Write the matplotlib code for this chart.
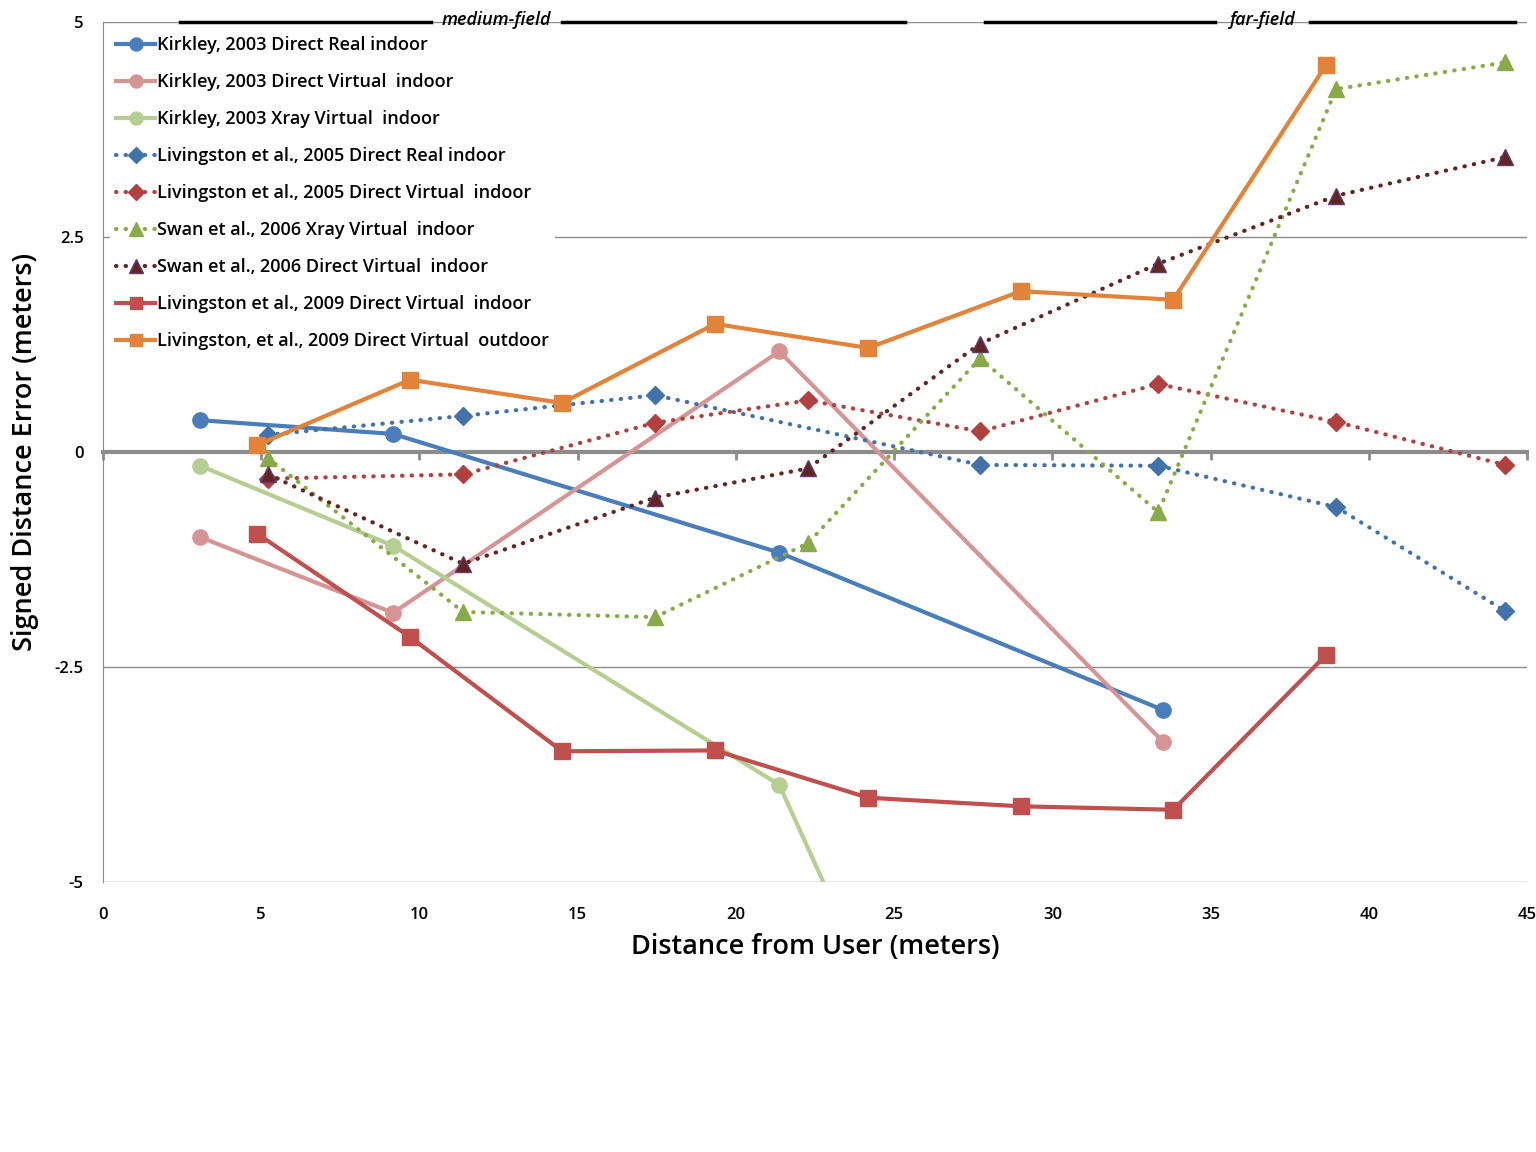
import matplotlib
matplotlib.use("Agg")
import matplotlib.pyplot as plt

plt.rcParams['font.family'] = ['Open Sans', 'DejaVu Sans']

# Kirkley 2003 (solid, circles)
kirk_x = [3.07, 9.17, 21.37, 33.5]
kirk_real = [0.37, 0.21, -1.17, -3.0]
kirk_virtual = [-0.99, -1.87, 1.17, -3.37]
kirk_xray = [-0.16, -1.09, -3.87, -13.7]

# Livingston 2005 / Swan 2006 (dotted)
liv05_x = [5.21, 11.38, 17.45, 22.28, 27.72, 33.35, 38.97, 44.31]
liv05_real_x = [5.21, 11.38, 17.45, 27.72, 33.35, 38.97, 44.31]
liv05_real = [0.20, 0.42, 0.66, -0.15, -0.16, -0.64, -1.85]
liv05_virtual = [-0.31, -0.26, 0.34, 0.60, 0.24, 0.79, 0.35, -0.15]
swan_xray = [-0.07, -1.86, -1.92, -1.06, 1.09, -0.70, 4.22, 4.53]
swan_direct = [-0.26, -1.30, -0.53, -0.19, 1.26, 2.19, 2.98, 3.43]

# Livingston 2009 (solid, squares)
liv09_x = [4.87, 9.70, 14.51, 19.34, 24.18, 29.01, 33.82, 38.65]
liv09_indoor = [-0.95, -2.15, -3.48, -3.47, -4.02, -4.12, -4.16, -2.36]
liv09_outdoor = [0.08, 0.84, 0.57, 1.49, 1.21, 1.87, 1.77, 4.50]

fig = plt.figure(figsize=(15.36, 11.52), dpi=100)
ax = fig.add_axes([103/1536, 1-882/1152, (1527-103)/1536, (882-22)/1152])

lw = 3.0
ax.plot(kirk_x, kirk_real, color='#4A7EBB', lw=lw, marker='o', ms=11, label='Kirkley, 2003 Direct Real indoor')
ax.plot(kirk_x, kirk_virtual, color='#D69594', lw=lw, marker='o', ms=11, label='Kirkley, 2003 Direct Virtual  indoor')
ax.plot(kirk_x, kirk_xray, color='#B5CF92', lw=lw, marker='o', ms=11, label='Kirkley, 2003 Xray Virtual  indoor')

dot = dict(lw=3.0, linestyle=(0, (0.1, 2.2)), dash_capstyle='round')
ax.plot(liv05_real_x, liv05_real, color='#4372AA', marker='D', ms=9, label='Livingston et al., 2005 Direct Real indoor', **dot)
ax.plot(liv05_x, liv05_virtual, color='#B0413E', marker='D', ms=9, label='Livingston et al., 2005 Direct Virtual  indoor', **dot)
ax.plot(liv05_x, swan_xray, color='#88AA48', marker='^', ms=12, label='Swan et al., 2006 Xray Virtual  indoor', **dot)
ax.plot(liv05_x, swan_direct, color='#632523', marker='^', ms=12, markeredgecolor='#5F3B6E',
        label='Swan et al., 2006 Direct Virtual  indoor', **dot)

ax.plot(liv09_x, liv09_indoor, color='#C0504D', lw=lw, marker='s', ms=11, label='Livingston et al., 2009 Direct Virtual  indoor')
ax.plot(liv09_x, liv09_outdoor, color='#E3833A', lw=lw, marker='s', ms=11, label='Livingston, et al., 2009 Direct Virtual  outdoor')

ax.set_xlim(0, 45)
ax.set_ylim(-5, 5)
ax.set_yticks([-5, -2.5, 0, 2.5, 5])
ax.set_yticklabels(['-5', '-2.5', '0', '2.5', '5'])
ax.set_xticks(range(0, 46, 5))
ax.grid(axis='y', color='#8c8c8c', lw=1)
ax.set_axisbelow(True)
for s in ['top', 'right', 'bottom']:
    ax.spines[s].set_visible(False)
ax.spines['left'].set_color('#8c8c8c')
ax.tick_params(axis='x', length=0, pad=18, labelsize=12)
ax.tick_params(axis='y', length=0, pad=14, labelsize=12)
for t in ax.get_xticklabels() + ax.get_yticklabels():
    t.set_fontweight('semibold')

# x axis line crossing at 0 (ticks pointing down)
sec = ax.secondary_xaxis(0.5)
sec.set_xticks(range(0, 46, 5))
sec.set_xticklabels([])
sec.tick_params(length=6, width=2, color='#8c8c8c', labelbottom=False, labeltop=False, direction='in')
for s in ['top', 'bottom']:
    sec.spines[s].set_color('#8c8c8c')
    sec.spines[s].set_linewidth(3)

ax.set_xlabel('Distance from User (meters)', fontsize=19.5, fontweight='semibold', labelpad=7)
ax.set_ylabel('Signed Distance Error (meters)', fontsize=19.5, fontweight='semibold', labelpad=11)

leg = ax.legend(loc='upper left', bbox_to_anchor=(0.0, 0.998), frameon=True, fontsize=13,
                handlelength=2.2, handletextpad=0.1, labelspacing=1.05, borderpad=0.3,
                borderaxespad=0.4, markerscale=0.85)
leg.get_frame().set_facecolor('white')
leg.get_frame().set_edgecolor('none')
leg.get_frame().set_alpha(1)
leg.get_frame().set_boxstyle('square', pad=0.0)
for t in leg.get_texts():
    t.set_fontweight('semibold')

# medium-field / far-field brackets on the top line
for x0, x1 in [(2.43, 10.37), (14.51, 25.35), (27.88, 35.15), (38.15, 44.63)]:
    ax.plot([x0, x1], [5, 5], color='black', lw=2.5, clip_on=False, zorder=5)
ax.text(12.42, 5.02, 'medium-field', ha='center', va='center', fontsize=13, fontstyle='italic',
        fontweight='semibold', zorder=6)
ax.text(36.66, 5.02, 'far-field', ha='center', va='center', fontsize=13, fontstyle='italic',
        fontweight='semibold', zorder=6)

fig.savefig('out.png', dpi=100)
